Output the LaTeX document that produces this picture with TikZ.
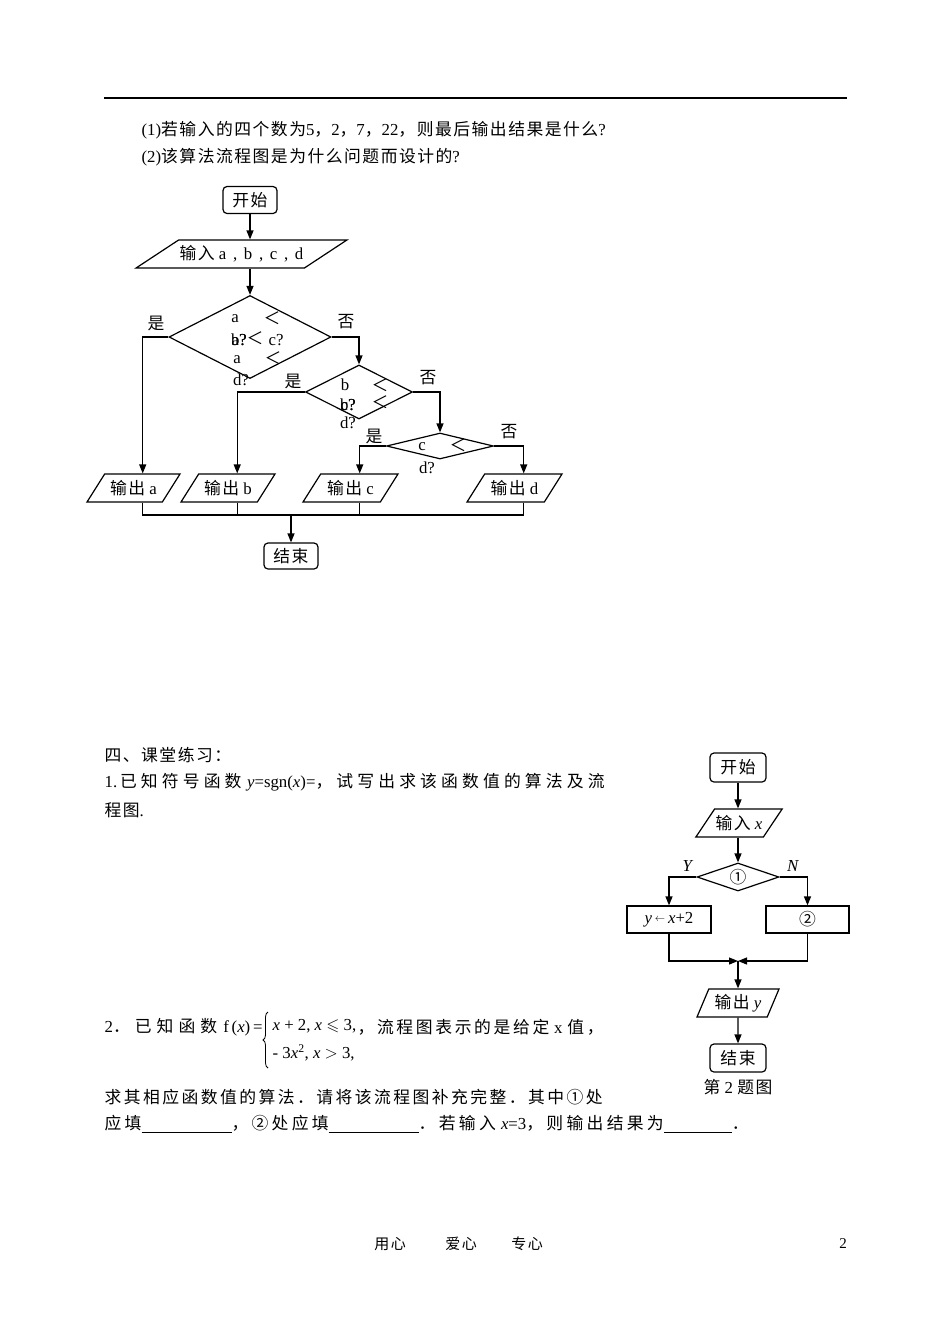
\documentclass[tikz,border=0pt]{standalone}
\usepackage{amsmath,amssymb}
\usepackage{fontspec}
\setmainfont{Liberation Serif}
\newfontfamily\cjk{Noto Sans CJK SC}
\newskip\zhsp \zhsp=1.5pt plus 4pt
\makeatletter
\def\zh#1{{\cjk\zh@loop#1\zh@end\unskip}}
\def\zh@loop#1{\ifx#1\zh@end\else#1\hskip\zhsp\relax\expandafter\zh@loop\fi}
\makeatother
\newcommand\cmsep{\hspace{2.5pt} , \hspace{2.5pt}}
\usetikzlibrary{shapes.geometric,arrows.meta,decorations.pathreplacing}
\begin{document}
\begin{tikzpicture}[x=1pt,y=-1pt,line width=1.2pt,
  every node/.style={font=\fontsize{16.8}{20}\selectfont, inner sep=0pt},
  term/.style={draw,rounded corners=4pt,minimum height=27pt},
  io/.style={draw,trapezium,trapezium stretches body=true,minimum height=28pt,inner sep=1pt},
  dec/.style={draw,diamond},
  proc/.style={draw,minimum height=27pt},
  arr/.style={-{Triangle[length=9pt,width=7pt]}},
  txt/.style={anchor=west}]
\fill[white] (0,0) rectangle (950,1342);
\useasboundingbox (0,0) rectangle (950,1342);

% header rule
\draw[line width=1.5pt] (104,98) -- (847,98);

% questions
\node[txt] (q1) at (141,130) {(1)\zh{若输入的四个数为}5\zh{，}2\zh{，}7\zh{，}22\zh{，则最后输出结果是什么}?};
\node[txt] (q2) at (141,157) {(2)\zh{该算法流程图是为什么问题而设计的}?};

% flowchart 1
\node[term,minimum width=54pt] (s1) at (250,200) {\zh{开始}};
\node[io,minimum width=203pt,trapezium left angle=23.8,trapezium right angle=156.2] (in1) at (241.5,254) {\zh{输入} a\cmsep b\cmsep c\cmsep d};
\node[dec,minimum width=162pt,minimum height=83pt] (d1) at (250,337) {};
\node[dec,minimum width=107pt,minimum height=54pt] (d2) at (359,392) {};
\node[dec,minimum width=107pt,minimum height=26pt] (d3) at (440,446) {};
\node[io,minimum width=93pt,trapezium left angle=44.7,trapezium right angle=135.3] (oa) at (133.5,488) {\zh{输出} a};
\node[io,minimum width=94pt,trapezium left angle=44.7,trapezium right angle=135.3] (ob) at (228,488) {\zh{输出} b};
\node[io,minimum width=95pt,trapezium left angle=44.7,trapezium right angle=135.3] (oc) at (350.5,488) {\zh{输出} c};
\node[io,minimum width=95pt,trapezium left angle=44.7,trapezium right angle=135.3] (od) at (514.5,488) {\zh{输出} d};
\node[term,minimum width=54pt,minimum height=26pt] (e1) at (291,556) {\zh{结束}};

% diamond texts
\node (t1a) at (235,319) {a};
\node (t1b) at (272,318) {\zh{＜}};
\node (t1c) at (239,340) {b?};
\node (t1d) at (239,340) {a?};
\node (t1e) at (255,338) {\zh{＜}};
\node (t1f) at (276,340) {c?};
\node (t1g) at (237,360) {a};
\node (t1h) at (273,358) {\zh{＜}};
\node (t1i) at (241,380) {d?};
\node (t2a) at (345,385) {b};
\node (t2b) at (380,385) {\zh{＜}};
\node (t2c) at (380,402) {\zh{＜}};
\node (t2d) at (348,405) {b?};
\node (t2e) at (348,405) {c?};
\node (t2f) at (348,423) {d?};
\node (t3a) at (422,447) {c};
\node (t3b) at (458,445) {\zh{＜}};
\node (t3c) at (427,468) {d?};

% branch labels
\node (y1) at (156,323) {\zh{是}};
\node (n1) at (346,322) {\zh{否}};
\node (y2) at (293,381) {\zh{是}};
\node (n2) at (428,378) {\zh{否}};
\node (y3) at (374,436) {\zh{是}};
\node (n3) at (509,432) {\zh{否}};

% connectors 1
\draw[arr] (s1) -- (s1 |- in1.north);
\draw[arr] (in1.south -| d1.north) -- (d1.north);
\draw[arr] (d1.west) -| (oa.top side);
\draw[arr] (d1.east) -| (d2.north);
\draw[arr] (d2.west) -| (ob.top side);
\draw[arr] (d2.east) -| (d3.north);
\draw[arr] (d3.west) -| (oc.top side);
\draw[arr] (d3.east) -| (od.top side);
\coordinate (m1) at (291,515);
\draw (oa.top side |- oa.south) |- (m1);
\draw (ob.top side |- ob.south) |- (m1);
\draw (oc.top side |- oc.south) |- (m1);
\draw (od.top side |- od.south) |- (m1);
\draw[arr] (m1) -- (e1);

% section four
\node[txt] (h4) at (104,755) {\zh{四、课堂练习：}};
\node[txt] (p1a) at (104,782) {\makebox[500pt][s]{1.\,\zh{已知符号函数} \textit{y}=sgn(\textit{x})=\zh{，试写出求该函数值的算法及流}}};
\node[txt] (p1b) at (104,810) {\zh{程图}.};

\node[txt] (p2a) at (104,1027) {\makebox[158pt][s]{2\zh{．已知函数} f\,(\textit{x})\,=}};
\draw[line width=0.8pt,decorate,decoration={brace,amplitude=5pt}] (268,1068) -- (268,1012);
\node[txt] (p2r1) at (272,1026) {\textit{x} + 2, \textit{x} $\leqslant$ 3,};
\node[txt] (p2r2) at (272,1053) {- 3\textit{x}\textsuperscript{2}, \textit{x} $>$ 3,};
\node[txt] (p2b) at (357,1027) {\makebox[246pt][s]{\zh{，流程图表示的是给定} x \zh{值，}}};
\node[txt] (p3) at (104,1097) {\makebox[498pt][s]{\zh{求其相应函数值的算法．请将该流程图补充完整．其中①处}}};
\node[txt] (p4) at (104,1124) {\makebox[644pt][s]{\zh{应填}\rule[-3pt]{90pt}{0.8pt}\zh{，②处应填}\rule[-3pt]{90pt}{0.8pt}\zh{．若输入} \textit{x}=3\zh{，则输出结果为}\rule[-3pt]{68pt}{0.8pt}\zh{．}}};

% flowchart 2
\node[term,minimum width=56pt,minimum height=29pt] (s2) at (738,767.5) {\zh{开始}};
\node[io,minimum width=86pt,trapezium left angle=43,trapezium right angle=137] (in2) at (739,823) {\zh{输入} \textit{x}};
\node[dec,minimum width=82pt,minimum height=28pt] (dd) at (738,877) {};
\node (c1) at (738,877) {\zh{①}};
\node (lY) at (688,866) {\textit{Y}};
\node (lN) at (793,866) {\textit{N}};
\node[proc,minimum width=84pt] (bl) at (669,919.5) {\textit{y}\,\raisebox{2pt}{\scalebox{0.6}{$\leftarrow$}}\,\textit{x}+2};
\node[proc,minimum width=83pt] (br) at (807.5,919.5) {\zh{②}};
\coordinate (m2) at (738,961);
\node[io,minimum width=82pt,trapezium left angle=59.2,trapezium right angle=120.8] (oy) at (738,1003) {\zh{输出} \textit{y}};
\node[term,minimum width=56pt,minimum height=28pt] (e2) at (738,1058) {\zh{结束}};
\node (cap) at (738,1087) {\zh{第} 2 \zh{题图}};

\draw[arr] (s2) -- (s2 |- in2.north);
\draw[arr] (in2.south -| dd.north) -- (dd.north);
\draw[arr] (dd.west) -| (bl.north);
\draw[arr] (dd.east) -| (br.north);
\draw[arr] (bl.south) |- (m2);
\draw[arr] (br.south) |- (m2);
\draw[arr] (m2) -- (oy);
\draw[arr] (oy) -- (e2);

% footer
\node[font=\fontsize{15}{18}\selectfont] (f1) at (390,1244) {\zh{用心}};
\node[font=\fontsize{15}{18}\selectfont] (f2) at (461,1244) {\zh{爱心}};
\node[font=\fontsize{15}{18}\selectfont] (f3) at (527,1244) {\zh{专心}};
\node[font=\fontsize{15}{18}\selectfont] (f4) at (843,1244) {2};
\end{tikzpicture}
\end{document}
